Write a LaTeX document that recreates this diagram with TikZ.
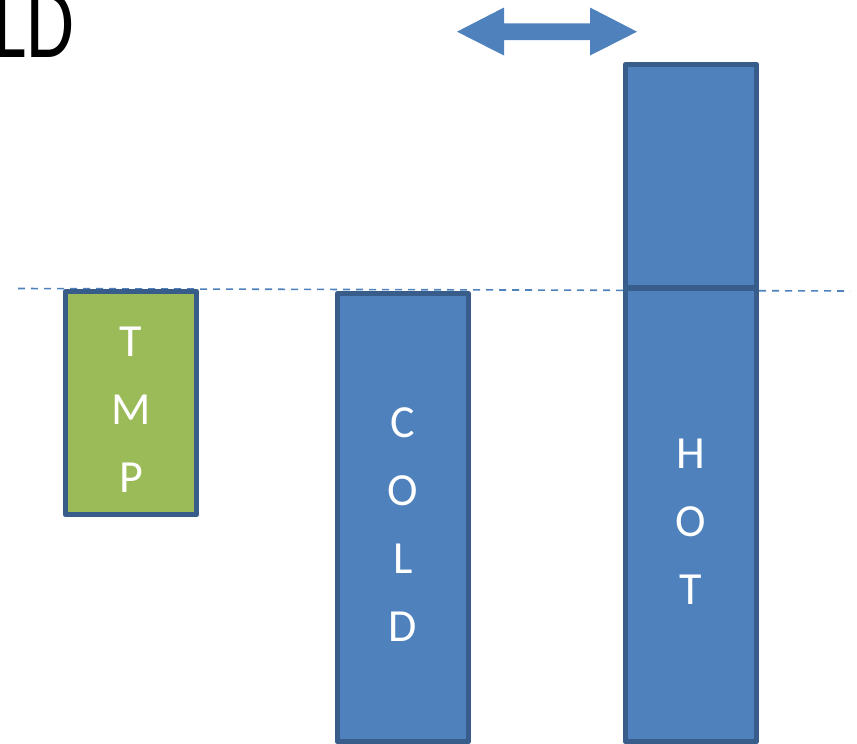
\documentclass[tikz,border=0pt]{standalone}
\usepackage{fontspec}
\setmainfont{Carlito}
\definecolor{barblue}{HTML}{4F81BD}
\definecolor{bargreen}{HTML}{9BBB59}
\definecolor{edgeblue}{HTML}{385D8A}
\begin{document}
\begin{tikzpicture}[x=1pt,y=-1pt,
  bar/.style={draw=edgeblue,line width=5.5pt,line join=round,fill=barblue,
    minimum width=131pt,inner sep=0pt},
  barlabel/.style={text=white,align=center,inner sep=0pt,yshift=-7pt,
    font=\fontsize{46}{68}\selectfont},
  guide/.style={barblue,line width=1.6pt,dash pattern=on 7pt off 6pt}]
\useasboundingbox (0,0) rectangle (857,744);
% level guide behind the bars
\coordinate (gl) at (18,288.5);
\coordinate (gr) at (850,291);
\draw[guide] (gl) -- (gr);
% bars
\node[bar,fill=bargreen,minimum height=223pt,
  label={[barlabel]center:T\\M\\P}] (tmp) at (131,403) {};
\node[bar,minimum height=448pt,
  label={[barlabel]center:C\\O\\L\\D}] (cold) at (403,517.5) {};
\node[bar,minimum height=453.5pt,
  label={[barlabel]center:H\\O\\T}] (hot) at (691,514.75) {};
\node[bar,minimum height=223.5pt] (hottop) at (691,176.25) {};
% double-headed arrow above
\fill[barblue] (457,31.7) -- (504,7.5) -- (504,23.3) -- (590,23.3) -- (590,7.5)
  -- (637,31.7) -- (590,55.5) -- (590,40) -- (504,40) -- (504,55.5) -- cycle;
% heading
\node[anchor=base west,inner sep=0pt,font=\fontsize{102}{102}\selectfont] (title)
  at (-6.5,57.3) {\scalebox{0.76}[1]{LD}};
\end{tikzpicture}
\end{document}
